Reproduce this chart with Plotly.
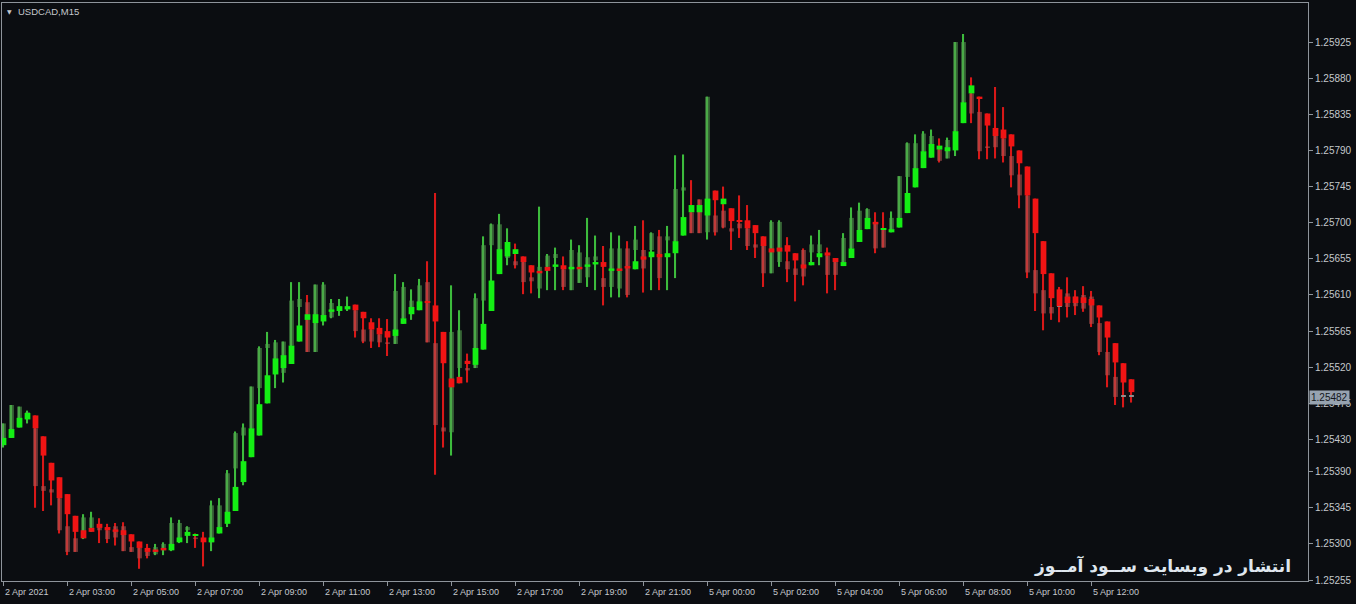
import plotly.graph_objects as go

# USDCAD M15, 2 Apr 01:00 -> 5 Apr 13:15 (one value per bar)
op = [1.25423, 1.25432, 1.25445, 1.25462, 1.25444, 1.25372, 1.25368, 1.25357, 1.25322, 1.25307,
      1.25307, 1.25320, 1.25322, 1.25317, 1.25322, 1.25322, 1.25296, 1.25295, 1.25290, 1.25287,
      1.25292, 1.25296, 1.25307, 1.25317, 1.25308, 1.25307, 1.25302, 1.25321, 1.25338, 1.25394,
      1.25435, 1.25444, 1.25494, 1.25544, 1.25513, 1.25513, 1.25547, 1.25595, 1.25601, 1.25539,
      1.25581, 1.25582, 1.25592, 1.25593, 1.25591, 1.25567, 1.25567, 1.25561, 1.25551, 1.25549,
      1.25581, 1.25591, 1.25601, 1.25626, 1.25550, 1.25445, 1.25439, 1.25519, 1.25519, 1.25519,
      1.25603, 1.25672, 1.25666, 1.25656, 1.25652, 1.25651, 1.25632, 1.25618, 1.25645, 1.25656,
      1.25642, 1.25616, 1.25625, 1.25632, 1.25653, 1.25631, 1.25620, 1.25618, 1.25668, 1.25666,
      1.25666, 1.25666, 1.25683, 1.25678, 1.25677, 1.25740, 1.25713, 1.25729, 1.25688, 1.25709,
      1.25715, 1.25693, 1.25699, 1.25693, 1.25673, 1.25671, 1.25637, 1.25651, 1.25652, 1.25643,
      1.25666, 1.25663, 1.25663, 1.25659, 1.25651, 1.25651, 1.25668, 1.25691, 1.25706, 1.25701,
      1.25691, 1.25692, 1.25706, 1.25757, 1.25768, 1.25789, 1.25798, 1.25791, 1.25780, 1.25814,
      1.25850, 1.25861, 1.25838, 1.25795, 1.25808, 1.25805, 1.25783, 1.25760, 1.25734, 1.25641,
      1.25616, 1.25595, 1.25596, 1.25612, 1.25608, 1.25610, 1.25608, 1.25575, 1.25539, 1.25508,
      1.25483, 1.25483]
hi = [1.25450, 1.25473, 1.25471, 1.25466, 1.25460, 1.25434, 1.25401, 1.25383, 1.25362, 1.25335,
      1.25337, 1.25340, 1.25332, 1.25325, 1.25326, 1.25327, 1.25312, 1.25303, 1.25300, 1.25300,
      1.25302, 1.25333, 1.25330, 1.25322, 1.25313, 1.25315, 1.25354, 1.25357, 1.25392, 1.25440,
      1.25450, 1.25496, 1.25546, 1.25564, 1.25554, 1.25552, 1.25626, 1.25626, 1.25610, 1.25623,
      1.25626, 1.25605, 1.25605, 1.25608, 1.25598, 1.25589, 1.25581, 1.25581, 1.25580, 1.25636,
      1.25626, 1.25617, 1.25630, 1.25652, 1.25737, 1.25564, 1.25622, 1.25591, 1.25537, 1.25612,
      1.25683, 1.25699, 1.25711, 1.25693, 1.25674, 1.25658, 1.25647, 1.25720, 1.25661, 1.25669,
      1.25658, 1.25679, 1.25672, 1.25706, 1.25684, 1.25671, 1.25688, 1.25684, 1.25677, 1.25696,
      1.25703, 1.25688, 1.25691, 1.25696, 1.25784, 1.25785, 1.25753, 1.25729, 1.25857, 1.25740,
      1.25745, 1.25718, 1.25734, 1.25722, 1.25697, 1.25683, 1.25703, 1.25703, 1.25682, 1.25662,
      1.25668, 1.25684, 1.25691, 1.25669, 1.25656, 1.25687, 1.25719, 1.25725, 1.25718, 1.25713,
      1.25713, 1.25714, 1.25758, 1.25800, 1.25810, 1.25814, 1.25816, 1.25805, 1.25806, 1.25925,
      1.25935, 1.25881, 1.25857, 1.25836, 1.25869, 1.25844, 1.25810, 1.25790, 1.25770, 1.25730,
      1.25677, 1.25637, 1.25620, 1.25632, 1.25616, 1.25621, 1.25615, 1.25597, 1.25577, 1.25550,
      1.25525, 1.25505]
lo = [1.25420, 1.25432, 1.25445, 1.25450, 1.25345, 1.25341, 1.25348, 1.25313, 1.25286, 1.25290,
      1.25306, 1.25315, 1.25301, 1.25301, 1.25298, 1.25291, 1.25290, 1.25269, 1.25282, 1.25286,
      1.25286, 1.25291, 1.25301, 1.25301, 1.25295, 1.25272, 1.25291, 1.25313, 1.25321, 1.25341,
      1.25373, 1.25408, 1.25435, 1.25475, 1.25494, 1.25501, 1.25524, 1.25552, 1.25539, 1.25539,
      1.25572, 1.25581, 1.25584, 1.25590, 1.25557, 1.25550, 1.25544, 1.25545, 1.25534, 1.25549,
      1.25574, 1.25579, 1.25591, 1.25551, 1.25386, 1.25420, 1.25410, 1.25500, 1.25501, 1.25519,
      1.25542, 1.25590, 1.25636, 1.25647, 1.25643, 1.25611, 1.25612, 1.25606, 1.25616, 1.25616,
      1.25616, 1.25616, 1.25625, 1.25620, 1.25616, 1.25597, 1.25607, 1.25607, 1.25607, 1.25642,
      1.25613, 1.25616, 1.25616, 1.25616, 1.25631, 1.25684, 1.25687, 1.25687, 1.25679, 1.25684,
      1.25693, 1.25666, 1.25681, 1.25666, 1.25656, 1.25620, 1.25637, 1.25645, 1.25626, 1.25602,
      1.25622, 1.25647, 1.25647, 1.25612, 1.25616, 1.25646, 1.25656, 1.25676, 1.25692, 1.25662,
      1.25669, 1.25688, 1.25694, 1.25712, 1.25744, 1.25768, 1.25781, 1.25775, 1.25780, 1.25783,
      1.25824, 1.25824, 1.25779, 1.25779, 1.25780, 1.25775, 1.25744, 1.25718, 1.25631, 1.25590,
      1.25566, 1.25579, 1.25576, 1.25582, 1.25585, 1.25589, 1.25570, 1.25535, 1.25495, 1.25473,
      1.25470, 1.25476]
cl = [1.25450, 1.25473, 1.25471, 1.25464, 1.25372, 1.25366, 1.25364, 1.25317, 1.25290, 1.25290,
      1.25333, 1.25333, 1.25317, 1.25306, 1.25308, 1.25291, 1.25290, 1.25282, 1.25285, 1.25296,
      1.25300, 1.25326, 1.25326, 1.25321, 1.25306, 1.25303, 1.25348, 1.25348, 1.25388, 1.25438,
      1.25445, 1.25496, 1.25544, 1.25549, 1.25551, 1.25552, 1.25603, 1.25605, 1.25539, 1.25623,
      1.25623, 1.25600, 1.25596, 1.25596, 1.25565, 1.25552, 1.25552, 1.25551, 1.25549, 1.25615,
      1.25620, 1.25603, 1.25622, 1.25551, 1.25448, 1.25440, 1.25564, 1.25566, 1.25516, 1.25606,
      1.25672, 1.25698, 1.25698, 1.25672, 1.25647, 1.25626, 1.25627, 1.25645, 1.25659, 1.25661,
      1.25620, 1.25666, 1.25663, 1.25657, 1.25658, 1.25620, 1.25668, 1.25668, 1.25610, 1.25679,
      1.25643, 1.25687, 1.25631, 1.25683, 1.25742, 1.25744, 1.25687, 1.25687, 1.25857, 1.25688,
      1.25694, 1.25689, 1.25693, 1.25671, 1.25669, 1.25637, 1.25701, 1.25701, 1.25642, 1.25635,
      1.25633, 1.25673, 1.25673, 1.25635, 1.25635, 1.25681, 1.25706, 1.25715, 1.25717, 1.25668,
      1.25669, 1.25706, 1.25758, 1.25799, 1.25799, 1.25811, 1.25808, 1.25777, 1.25803, 1.25925,
      1.25925, 1.25836, 1.25789, 1.25793, 1.25794, 1.25783, 1.25759, 1.25734, 1.25638, 1.25612,
      1.25587, 1.25587, 1.25596, 1.25595, 1.25596, 1.25593, 1.25574, 1.25539, 1.25510, 1.25483,
      1.25483, 1.25483]

# second candle set drawn bright on top (smoothed open/close)
ha_op = [1.25423, 1.25432, 1.25445, 1.25455, 1.25460, 1.25434, 1.25401, 1.25383, 1.25362, 1.25335,
         1.25317, 1.25320, 1.25325, 1.25321, 1.25318, 1.25317, 1.25312, 1.25303, 1.25295, 1.25293,
         1.25295, 1.25292, 1.25302, 1.25310, 1.25310, 1.25308, 1.25302, 1.25313, 1.25325, 1.25341,
         1.25377, 1.25408, 1.25435, 1.25475, 1.25511, 1.25519, 1.25524, 1.25552, 1.25579, 1.25575,
         1.25577, 1.25589, 1.25590, 1.25592, 1.25598, 1.25589, 1.25576, 1.25569, 1.25565, 1.25559,
         1.25574, 1.25586, 1.25591, 1.25601, 1.25597, 1.25564, 1.25506, 1.25508, 1.25528, 1.25523,
         1.25542, 1.25590, 1.25636, 1.25658, 1.25661, 1.25658, 1.25647, 1.25640, 1.25645, 1.25645,
         1.25647, 1.25642, 1.25645, 1.25645, 1.25648, 1.25651, 1.25640, 1.25643, 1.25646, 1.25642,
         1.25658, 1.25657, 1.25661, 1.25657, 1.25662, 1.25684, 1.25713, 1.25713, 1.25709, 1.25740,
         1.25723, 1.25718, 1.25703, 1.25703, 1.25697, 1.25683, 1.25668, 1.25669, 1.25672, 1.25662,
         1.25648, 1.25647, 1.25657, 1.25663, 1.25656, 1.25646, 1.25656, 1.25676, 1.25692, 1.25701,
         1.25691, 1.25688, 1.25694, 1.25712, 1.25744, 1.25768, 1.25781, 1.25791, 1.25789, 1.25790,
         1.25824, 1.25861, 1.25857, 1.25836, 1.25818, 1.25816, 1.25810, 1.25790, 1.25770, 1.25730,
         1.25677, 1.25637, 1.25617, 1.25608, 1.25608, 1.25607, 1.25605, 1.25597, 1.25577, 1.25550,
         1.25525, 1.25505]
ha_cl = [1.25432, 1.25443, 1.25457, 1.25463, 1.25444, 1.25410, 1.25379, 1.25357, 1.25337, 1.25315,
         1.25307, 1.25315, 1.25320, 1.25317, 1.25315, 1.25311, 1.25303, 1.25295, 1.25290, 1.25290,
         1.25292, 1.25300, 1.25308, 1.25315, 1.25312, 1.25302, 1.25308, 1.25321, 1.25340, 1.25371,
         1.25403, 1.25444, 1.25474, 1.25510, 1.25531, 1.25535, 1.25547, 1.25572, 1.25586, 1.25586,
         1.25585, 1.25592, 1.25596, 1.25596, 1.25591, 1.25581, 1.25567, 1.25561, 1.25557, 1.25567,
         1.25581, 1.25595, 1.25602, 1.25600, 1.25577, 1.25525, 1.25495, 1.25500, 1.25524, 1.25544,
         1.25574, 1.25628, 1.25667, 1.25676, 1.25667, 1.25651, 1.25638, 1.25637, 1.25640, 1.25648,
         1.25642, 1.25645, 1.25642, 1.25648, 1.25651, 1.25645, 1.25643, 1.25641, 1.25643, 1.25652,
         1.25654, 1.25664, 1.25657, 1.25662, 1.25677, 1.25707, 1.25722, 1.25722, 1.25730, 1.25728,
         1.25730, 1.25702, 1.25701, 1.25693, 1.25687, 1.25671, 1.25663, 1.25664, 1.25664, 1.25653,
         1.25643, 1.25651, 1.25662, 1.25659, 1.25651, 1.25651, 1.25668, 1.25691, 1.25706, 1.25698,
         1.25693, 1.25692, 1.25706, 1.25737, 1.25768, 1.25789, 1.25798, 1.25796, 1.25794, 1.25814,
         1.25850, 1.25871, 1.25855, 1.25821, 1.25808, 1.25805, 1.25795, 1.25774, 1.25734, 1.25687,
         1.25636, 1.25606, 1.25596, 1.25600, 1.25600, 1.25600, 1.25597, 1.25582, 1.25557, 1.25526,
         1.25501, 1.25489]

time_labels = ["2 Apr 2021", "2 Apr 03:00", "2 Apr 05:00", "2 Apr 07:00", "2 Apr 09:00",
               "2 Apr 11:00", "2 Apr 13:00", "2 Apr 15:00", "2 Apr 17:00", "2 Apr 19:00",
               "2 Apr 21:00", "5 Apr 00:00", "5 Apr 02:00", "5 Apr 04:00", "5 Apr 06:00",
               "5 Apr 08:00", "5 Apr 10:00", "5 Apr 12:00"]
label_bars = [0, 8, 16, 24, 32, 40, 48, 56, 64, 72, 80, 88, 96, 104, 112, 120, 128, 136]
price_ticks = ["1.25925", "1.25880", "1.25835", "1.25790", "1.25745", "1.25700", "1.25655",
               "1.25610", "1.25565", "1.25520", "1.25475", "1.25430", "1.25390", "1.25345",
               "1.25300", "1.25255"]
last_price = "1.25482"

BG = "#0b0d11"
AXIS = "#8e949b"
TXT = "#c4c8cc"
EPS = 0.000013  # keep flat bodies visible (about one pixel)

x = list(range(len(op)))

# wick colours follow the real candle, flat ones take the overlay colour
wick_col = []
dim_col = []
for o, c, bo, bc in zip(op, cl, ha_op, ha_cl):
    if c > o:
        wick_col.append("#3dbb3d")
        dim_col.append("rgba(83,157,78,0.6)")
    elif c < o:
        wick_col.append("#d81818")
        dim_col.append("rgba(176,82,80,0.6)")
    else:
        wick_col.append("#3dbb3d" if bc > bo else "#d81818")
        dim_col.append("#8f8f8f")

bright_col = ["#14ee14" if bc >= bo else "#f01414" for bo, bc in zip(ha_op, ha_cl)]

fig = go.Figure()

fig.add_trace(go.Bar(
    x=x, base=lo, y=[h - l for h, l in zip(hi, lo)],
    width=0.14, marker=dict(color=wick_col, line=dict(width=0)),
    hoverinfo="skip", showlegend=False))

fig.add_trace(go.Bar(
    x=x, base=[min(o, c) for o, c in zip(op, cl)],
    y=[max(abs(c - o), EPS) for o, c in zip(op, cl)],
    width=0.6, marker=dict(color=dim_col, line=dict(width=0)),
    hoverinfo="skip", showlegend=False))

fig.add_trace(go.Bar(
    x=x, base=[min(o, c) for o, c in zip(ha_op, ha_cl)],
    y=[max(abs(c - o), EPS) for o, c in zip(ha_op, ha_cl)],
    width=0.72, marker=dict(color=bright_col, line=dict(width=0)),
    hoverinfo="skip", showlegend=False))

# time labels sit to the right of their tick, as in the terminal
annotations = []
for b, t in zip(label_bars, time_labels):
    annotations.append(dict(x=b, xref="x", y=0, yref="paper", yanchor="top", xanchor="left",
                            yshift=-4, xshift=-1, text=t, showarrow=False,
                            font=dict(family="Liberation Sans", size=9, color=TXT)))

annotations.append(dict(x=0, xref="paper", y=1, yref="paper", xanchor="left", yanchor="top",
                        xshift=3, yshift=-3, text="▼", showarrow=False,
                        font=dict(family="DejaVu Sans", size=6, color=TXT)))
annotations.append(dict(x=0, xref="paper", y=1, yref="paper", xanchor="left", yanchor="top",
                        xshift=14, yshift=-1, text="USDCAD,M15", showarrow=False,
                        font=dict(family="Liberation Sans", size=9.5, color=TXT)))

# current price box on the price scale
annotations.append(dict(x=1, xref="paper", y=float(last_price), yref="y",
                        xanchor="left", xshift=1, text=last_price, showarrow=False,
                        bgcolor="#97a3b0", borderpad=1,
                        font=dict(family="Liberation Sans", size=10, color="#14181d")))

annotations.append(dict(x=0.9885, xref="paper", y=0.026, yref="paper", xanchor="right",
                        yanchor="middle", showarrow=False,
                        text="<b>انتشار در وبسایت ســود آمــوز</b>",
                        font=dict(family="DejaVu Sans", size=17, color="#dfe6ee")))

fig.update_layout(
    width=1356, height=604, autosize=False,
    margin=dict(l=2, r=48, t=3, b=23),
    paper_bgcolor=BG, plot_bgcolor=BG,
    barmode="overlay",
    annotations=annotations,
    xaxis=dict(range=[-0.1875, 163.0625], showgrid=False, zeroline=False,
               showline=True, linecolor=AXIS, linewidth=1, mirror=True,
               tickvals=label_bars, ticks="outside", ticklen=4, tickcolor=AXIS,
               showticklabels=False, fixedrange=True),
    yaxis=dict(range=[1.252538, 1.259736], side="right", showgrid=False, zeroline=False,
               showline=True, linecolor=AXIS, linewidth=1, mirror=True,
               tickvals=[float(t) for t in price_ticks], ticktext=price_ticks,
               ticks="outside", ticklen=4, tickcolor=AXIS,
               tickfont=dict(family="Liberation Sans", size=10, color=TXT),
               fixedrange=True),
)

fig.write_html("out.html", config={"displayModeBar": False})

# drop the browser's default page margin so the chart fills the window
with open("out.html", encoding="utf-8") as f:
    html = f.read()
html = html.replace("<head>", "<head><style>html,body{margin:0;padding:0;background:%s;}</style>" % BG, 1)
with open("out.html", "w", encoding="utf-8") as f:
    f.write(html)
